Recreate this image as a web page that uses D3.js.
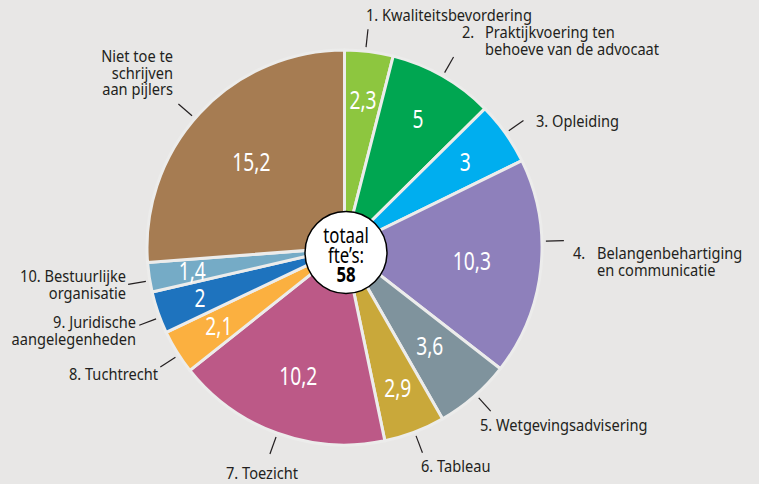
<!DOCTYPE html>
<html>
<head>
<meta charset="utf-8">
<script src="https://cdn.jsdelivr.net/npm/d3@7"></script>
<style>
  body { margin: 0; background: #e8e7e6; }
  svg { display: block; font-family: "Noto Sans", "Open Sans", sans-serif; }
</style>
</head>
<body>
<svg width="759" height="484"></svg>
<script>
"use strict";

// pijlers, clockwise from 12 o'clock
const categories = [
  "1. Kwaliteitsbevordering",
  "2. Praktijkvoering ten behoeve van de advocaat",
  "3. Opleiding",
  "4. Belangenbehartiging en communicatie",
  "5. Wetgevingsadvisering",
  "6. Tableau",
  "7. Toezicht",
  "8. Tuchtrecht",
  "9. Juridische aangelegenheden",
  "10. Bestuurlijke organisatie",
  "Niet toe te schrijven aan pijlers"
];
const fte = [2.3, 5, 3, 10.3, 3.6, 2.9, 10.2, 2.1, 2, 1.4, 15.2];
const valueLabels = ["2,3", "5", "3", "10,3", "3,6", "2,9", "10,2", "2,1", "2", "1,4", "15,2"];
const colors = ["#8dc63f", "#00a651", "#00aeef", "#8e80bb", "#7f939d", "#c9a83a",
                "#bc5987", "#fbb040", "#1e73be", "#75abc6", "#a67c52"];
const totalLabel = ["totaal", "fte\u2019s:", "58"];

// label text as it wraps in the picture (number kept apart where it hangs)
const outerText = [
  { num: null, lines: ["1. Kwaliteitsbevordering"] },
  { num: "2.", lines: ["Praktijkvoering ten", "behoeve van de advocaat"] },
  { num: null, lines: ["3. Opleiding"] },
  { num: "4.", lines: ["Belangenbehartiging", "en communicatie"] },
  { num: null, lines: ["5. Wetgevingsadvisering"] },
  { num: null, lines: ["6. Tableau"] },
  { num: null, lines: ["7. Toezicht"] },
  { num: null, lines: ["8. Tuchtrecht"] },
  { num: null, lines: ["9. Juridische", "aangelegenheden"] },
  { num: null, lines: ["10. Bestuurlijke", "organisatie"] },
  { num: null, lines: ["Niet toe te", "schrijven", "aan pijlers"] }
];

// layout
const cx = 344.5, cy = 247.5, R = 197.5;
const narrow = 0.86;      // the source uses a condensed face
const valueR = [149, 148, 148, 128, 130, 150, 136, 148, 153, 154, 127];
const leaderShift = [-1, 0, 0, -7.7, -0.8, 0, 0, -1, -1.5, -1, -2]; // degrees
const labelPos = [
  { x: 366, y: 21, anchor: "start" },
  { x: 485, y: 38, anchor: "start", numX: 462 },
  { x: 536, y: 127, anchor: "start" },
  { x: 597, y: 259, anchor: "start", numX: 573 },
  { x: 480, y: 431, anchor: "start" },
  { x: 421, y: 472, anchor: "start" },
  { x: 226, y: 479, anchor: "start" },
  { x: 158, y: 380, anchor: "end" },
  { x: 136, y: 328, anchor: "end" },
  { x: 126, y: 282, anchor: "end" },
  { x: 173, y: 62, anchor: "end" }
];
const lineH = 16.5;

const svg = d3.select("svg");
const g = svg.append("g").attr("transform", `translate(${cx},${cy})`);

const pie = d3.pie().sort(null).value(d => d);
const arcs = pie(fte);
const arc = d3.arc().innerRadius(0).outerRadius(R);

g.selectAll("path.slice")
  .data(arcs)
  .enter()
  .append("path")
  .attr("class", "slice")
  .attr("d", arc)
  .attr("fill", (d, i) => colors[i])
  .attr("stroke", "#ececeb")
  .attr("stroke-width", 3)
  .attr("stroke-linejoin", "round");

// values inside the slices
g.selectAll("text.val")
  .data(arcs)
  .enter()
  .append("text")
  .attr("class", "val")
  .attr("transform", (d, i) => {
    const [x, y] = d3.arc().innerRadius(valueR[i]).outerRadius(valueR[i]).centroid(d);
    return `translate(${x},${y}) scale(0.74,1)`;
  })
  .attr("text-anchor", "middle")
  .attr("dy", "0.36em")
  .attr("fill", "#fff")
  .attr("font-size", 26)
  .text((d, i) => valueLabels[i]);

// leader lines, along each slice's middle
const ang = (d, i) => (d.startAngle + d.endAngle) / 2 + leaderShift[i] * Math.PI / 180;
g.selectAll("line.leader")
  .data(arcs)
  .enter()
  .append("line")
  .attr("class", "leader")
  .attr("x1", (d, i) => Math.sin(ang(d, i)) * (R + 4))
  .attr("y1", (d, i) => -Math.cos(ang(d, i)) * (R + 4))
  .attr("x2", (d, i) => Math.sin(ang(d, i)) * (R + 22))
  .attr("y2", (d, i) => -Math.cos(ang(d, i)) * (R + 22))
  .attr("stroke", "#231f20")
  .attr("stroke-width", 1.2);

// outer labels
const labels = svg.append("g")
  .attr("fill", "#231f20")
  .attr("font-size", 17);

outerText.forEach((t, i) => {
  const p = labelPos[i];
  if (t.num) {
    labels.append("text")
      .attr("transform", `translate(${p.numX},${p.y}) scale(${narrow},1)`)
      .text(t.num);
  }
  const txt = labels.append("text")
    .attr("transform", `translate(${p.x},${p.y}) scale(${narrow},1)`)
    .attr("text-anchor", p.anchor);
  t.lines.forEach((line, k) => {
    txt.append("tspan")
      .attr("x", 0)
      .attr("y", k * lineH)
      .text(line);
  });
});

// centre circle with total
const centre = svg.append("g").attr("transform", "translate(346,252.5)");
centre.append("circle")
  .attr("r", 41)
  .attr("fill", "#fff")
  .attr("stroke", "#000")
  .attr("stroke-width", 1.5);
centre.selectAll("text")
  .data(totalLabel)
  .enter()
  .append("text")
  .attr("text-anchor", "middle")
  .attr("transform", (d, i) => `translate(0,${-9.5 + i * 19.5}) scale(0.8,1)`)
  .attr("font-size", 21)
  .attr("font-weight", (d, i) => i === 2 ? "bold" : "normal")
  .attr("fill", "#000")
  .text(d => d);
</script>
</body>
</html>
